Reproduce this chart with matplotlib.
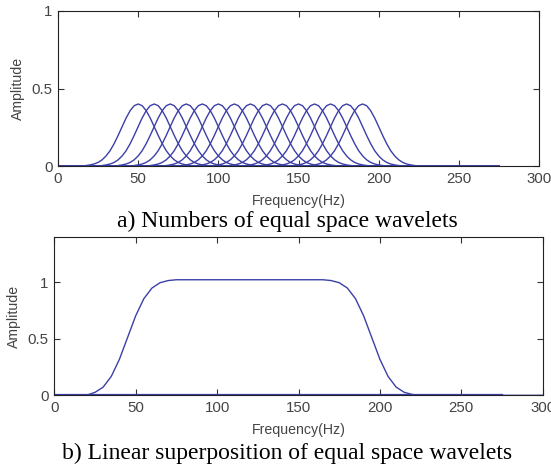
import numpy as np
import matplotlib
matplotlib.use('Agg')
import matplotlib.pyplot as plt

# wavelet centres (Hz) and one wavelet's profile read off panel a)
centers = [50, 60, 70, 80, 90, 100, 110, 120, 130, 140, 150, 160, 170, 180, 190]
offsets = [-35, -32.5, -30, -27.5, -25, -22.5, -20, -17.5, -15, -12.5, -10, -7.5, -5, -2.5, 0,
           2.5, 5, 7.5, 10, 12.5, 15, 17.5, 20, 22.5, 25, 27.5, 30, 32.5, 35]
profile = [0.0, 0.003, 0.007, 0.013, 0.023, 0.040, 0.065, 0.099, 0.144, 0.197, 0.254, 0.310, 0.357, 0.389, 0.400,
           0.389, 0.357, 0.310, 0.254, 0.197, 0.144, 0.099, 0.065, 0.040, 0.023, 0.013, 0.007, 0.003, 0.0]
freq_end = 275

# superposition read off panel b)
sum_freq = [0, 20, 25, 30, 35, 40, 45, 50, 55, 60, 65, 70, 75, 80, 160, 165, 170, 175,
            180, 185, 190, 195, 200, 205, 210, 215, 220, 225, 300]
sum_amp = [0, 0.002, 0.026, 0.072, 0.167, 0.318, 0.51, 0.702, 0.853, 0.947, 0.994, 1.013, 1.02, 1.02,
           1.02, 1.02, 1.013, 0.994, 0.947, 0.853, 0.702, 0.51, 0.318, 0.167, 0.072, 0.026, 0.007, 0.0, 0.0]

xticks = [0, 50, 100, 150, 200, 250, 300]
yticks = [0, 0.5, 1]
ytick_labels = ['0', '0.5', '1']

line_c = '#3b3fa8'
W, H = 551, 467
fig = plt.figure(figsize=(W / 100, H / 100), dpi=100)

ax1 = fig.add_axes([58 / W, 1 - 166 / H, 481 / W, 155 / H])
ax2 = fig.add_axes([54.3 / W, 1 - 395.3 / H, 488.4 / W, 158.6 / H])

for c in centers:
    xs = [0] + [c + o for o in offsets] + [freq_end]
    ys = [0] + profile + [0]
    ax1.plot(xs, ys, color=line_c, lw=1)
ax1.set_ylim(0, 1)

ax2.plot([0, freq_end], [0, 0], color=line_c, lw=1.6)
ax2.plot(sum_freq, sum_amp, color=line_c, lw=1)
ax2.set_ylim(0, 1.4)

for ax in (ax1, ax2):
    ax.set_xlim(0, 300)
    ax.set_xticks(xticks)
    ax.set_yticks(yticks)
    ax.set_yticklabels(ytick_labels)
    ax.tick_params(direction='in', top=True, right=True, length=4, width=0.8,
                   labelsize=10.8, colors='#333333', pad=4)
    for lab in ax.get_xticklabels() + ax.get_yticklabels():
        lab.set_fontfamily(['Liberation Sans Narrow', 'Liberation Sans'])
        lab.set_color('#444444')
    for s in ax.spines.values():
        s.set_linewidth(0.8)
        s.set_color('#222222')
    ax.set_xlabel('Frequency(Hz)', fontsize=10.2, family='Liberation Sans', color='#444444', labelpad=6)
    ax.set_ylabel('Amplitude', fontsize=10.2, family='Liberation Sans', color='#444444', labelpad=5)

fig.text(287 / W, 1 - 221 / H, 'a) Numbers of equal space wavelets', ha='center', va='center',
         family='Liberation Serif', fontsize=17)
fig.text(287 / W, 1 - 453 / H, 'b) Linear superposition of equal space wavelets', ha='center', va='center',
         family='Liberation Serif', fontsize=17)

fig.savefig('out.png', dpi=100)
